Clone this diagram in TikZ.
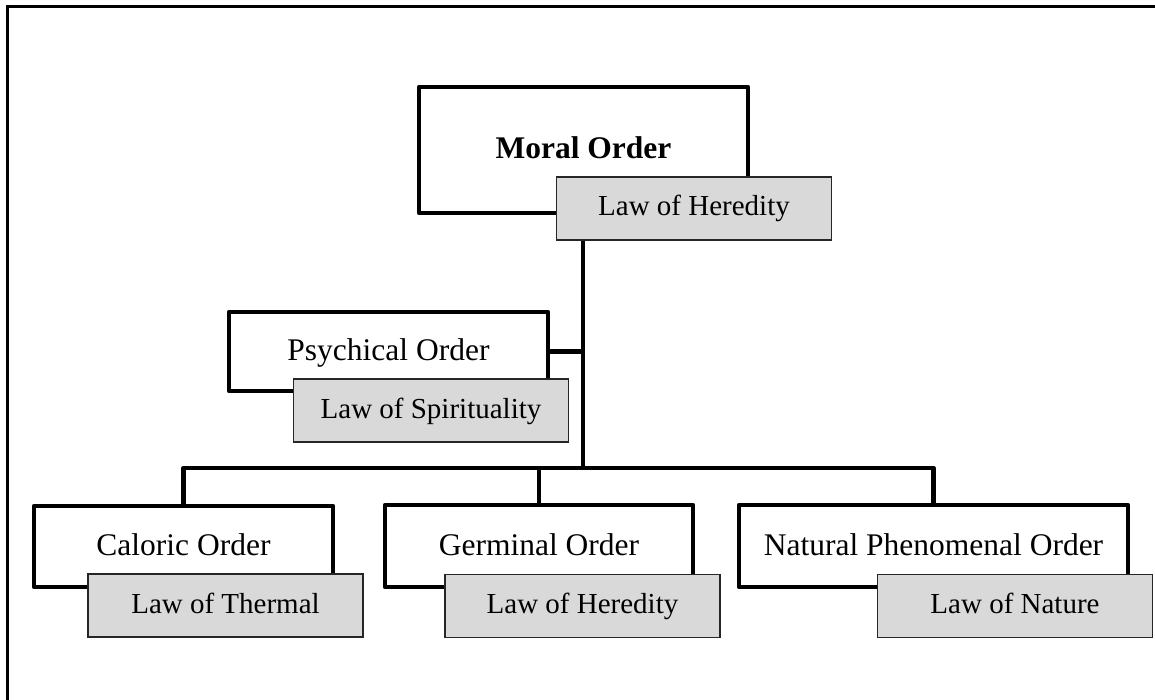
\documentclass[tikz,border=0pt]{standalone}
\usepackage{fontspec}
\setmainfont{Liberation Serif}
\begin{document}
\begin{tikzpicture}[x=1pt,y=-1pt,
  orderbox/.style={draw=black, line width=4.5pt, line join=round, fill=white, inner sep=0pt,
    text height=22pt, text depth=4pt, font=\fontsize{31.5}{36}\selectfont},
  lawbox/.style={draw=black!85, line width=1.6pt, fill=lawgray, inner sep=0pt,
    text height=19pt, text depth=4pt,
    minimum width=275pt, minimum height=63pt, font=\fontsize{29}{34}\selectfont},
  conn/.style={line width=4.5pt, line join=round},
  frame/.style={line width=2.2pt}
]
\definecolor{lawgray}{RGB}{217,217,217}
\fill[white] (0,0) rectangle (1155,700);
\useasboundingbox (0,0) rectangle (1155,700);
\draw[frame] (7.5,700) -- (7.5,6.5) -- (1155,6.5);

% top
\node[orderbox, minimum width=329pt, minimum height=126pt] (moral) at (583.5,150) {\bfseries Moral Order};
\node[lawbox] (lawh1) at (694,208.5) {Law of Heredity};

% psychical
\node[orderbox, minimum width=319pt, minimum height=79pt] (psych) at (388.5,351.5) {Psychical Order};
\node[lawbox] (laws) at (431,410.5) {Law of Spirituality};

% bottom row
\node[orderbox, minimum width=299pt, minimum height=81pt] (caloric) at (183.5,546.5) {Caloric Order};
\node[lawbox] (lawt) at (225.5,605.5) {Law of Thermal};

\node[orderbox, minimum width=308pt, minimum height=82pt] (germinal) at (539,546) {Germinal Order};
\node[lawbox] (lawh2) at (582.5,606) {Law of Heredity};

\node[orderbox, minimum width=389pt, minimum height=82pt] (natural) at (933.5,546) {Natural Phenomenal Order};
\node[lawbox] (lawn) at (1015,606) {Law of Nature};

% connectors
\coordinate (bus) at (583,468);
\draw[conn] (lawh1.south -| bus) -- (bus);
\draw[conn] (psych.east) -- (psych.east -| bus);
\draw[conn] (caloric.north) -- (caloric.north |- bus) -- (natural.north |- bus) -- (natural.north);
\draw[conn] (germinal.north) -- (germinal.north |- bus);
\end{tikzpicture}
\end{document}
